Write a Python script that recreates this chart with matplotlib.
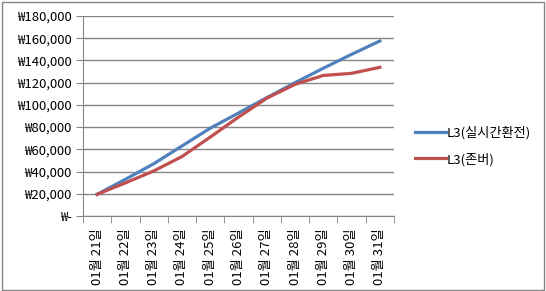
import matplotlib
matplotlib.use("Agg")
import matplotlib.pyplot as plt
import numpy as np
from matplotlib.ticker import FuncFormatter
from matplotlib.patches import Rectangle

plt.rcParams['font.family'] = ['Noto Sans CJK KR', 'DejaVu Sans']

days = ["01월 21일", "01월 22일", "01월 23일", "01월 24일", "01월 25일", "01월 26일",
        "01월 27일", "01월 28일", "01월 29일", "01월 30일", "01월 31일"]
realtime = [19500, 33000, 47000, 63000, 79000, 92700, 106500, 120000, 133000, 145500, 157500]
jonber = [19500, 29800, 40500, 53500, 71000, 89000, 106000, 118500, 126500, 128400, 133800]
names = ["L3(실시간환전)", "L3(존버)"]

fig = plt.figure(figsize=(5.46, 2.91), dpi=100)
ax = fig.add_axes([83/546, 75/291, 311/546, 200/291])

x = np.arange(len(days))
ax.plot(x, realtime, color="#4F81BD", lw=2.3, label=names[0])
ax.plot(x, jonber, color="#C0504D", lw=2.3, label=names[1])

ax.set_xlim(-0.5, len(days) - 0.5)
ax.set_ylim(0, 180000)
ax.set_yticks(np.arange(0, 180001, 20000))
ax.yaxis.set_major_formatter(FuncFormatter(lambda v, p: "₩-" if v == 0 else "₩{:,.0f}".format(v)))
ax.grid(axis="y", color="#868686", lw=1)
ax.set_axisbelow(True)

ax.set_xticks(x)
ax.set_xticklabels(days, rotation=90, va="top")
ax.set_xticks(np.arange(-0.5, len(days)), minor=True)
ax.tick_params(axis="x", which="major", length=0, pad=9, labelsize=9.5)
ax.tick_params(axis="x", which="minor", length=5, color="#868686", direction="out")
ax.tick_params(axis="y", length=5, color="#868686", labelsize=9.5, pad=3)

for s in ["top", "right"]:
    ax.spines[s].set_visible(False)
for s in ["left", "bottom"]:
    ax.spines[s].set_color("#868686")

ax.legend(loc="center left", bbox_to_anchor=(1.03, 0.35), frameon=False,
          fontsize=9.5, handlelength=2.3, handletextpad=0.1, labelspacing=1.0)

fig.patches.append(Rectangle((0.003, 0.004), 0.994, 0.99, transform=fig.transFigure,
                             fill=False, edgecolor="#868686", lw=1))

fig.savefig("out.png", dpi=100)
